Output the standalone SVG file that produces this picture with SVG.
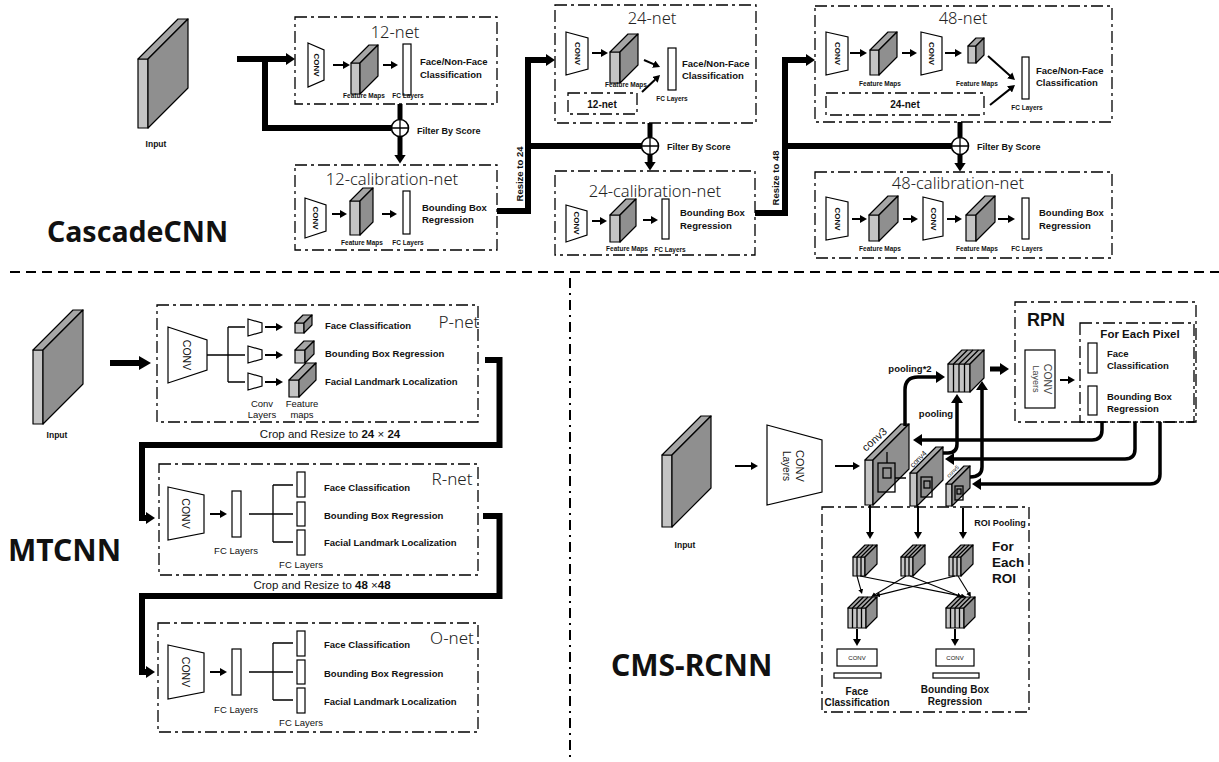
<svg xmlns="http://www.w3.org/2000/svg" width="1219" height="762" viewBox="0 0 1219 762">
<defs>
<style>
.bx{fill:none;stroke:#000;stroke-width:1.3;stroke-dasharray:12 4 3 4}
.th{fill:none;stroke:#000;stroke-width:6;stroke-linejoin:miter}
.t5{fill:none;stroke:#000;stroke-width:5}
.t4{fill:none;stroke:#000;stroke-width:3.5}
.a2{fill:none;stroke:#000;stroke-width:2}
.a1{fill:none;stroke:#000;stroke-width:1.1}
.fr{fill:#c4c4c4;stroke:#000;stroke-width:1.2;stroke-linejoin:round}
.tp{fill:#a6a6a6;stroke:#000;stroke-width:1.2;stroke-linejoin:round}
.sd{fill:#8f8f8f;stroke:#000;stroke-width:1.2;stroke-linejoin:round}
.wh{fill:#fff;stroke:#000;stroke-width:1.2}
.ln{fill:none;stroke:#000;stroke-width:1.3}
.ox{fill:#fff;stroke:#000;stroke-width:1.6}
text{font-family:"Liberation Sans",Arial,sans-serif;fill:#111}
.ttl{font-family:"Noto Sans","Liberation Sans",sans-serif;font-weight:300;font-size:16.5px;text-anchor:middle;fill:#222}
.lb{font-weight:bold;font-size:9.5px}
.sm{font-weight:bold;font-size:6.5px;text-anchor:middle}
.cv{font-size:8px;font-weight:bold;text-anchor:middle;dominant-baseline:central}
.cvb{font-size:10.5px;text-anchor:middle;dominant-baseline:central}
.big{font-family:"Noto Sans","Liberation Sans",sans-serif;font-weight:bold;font-size:30px}
.mid{text-anchor:middle}
</style>
<marker id="mS" markerUnits="userSpaceOnUse" markerWidth="8" markerHeight="8" refX="0.5" refY="4" orient="auto"><path d="M0,0 L7,4 L0,8 z"/></marker>
<marker id="mX" markerUnits="userSpaceOnUse" markerWidth="6" markerHeight="6" refX="0.5" refY="2.5" orient="auto"><path d="M0,0 L5,2.5 L0,5 z"/></marker>
<marker id="mT" markerUnits="userSpaceOnUse" markerWidth="10" markerHeight="12" refX="0.5" refY="6" orient="auto"><path d="M0,0 L9,6 L0,12 z"/></marker>
<marker id="mB" markerUnits="userSpaceOnUse" markerWidth="13" markerHeight="14" refX="0.5" refY="7" orient="auto"><path d="M0,0 L12,7 L0,14 z"/></marker>
</defs>
<rect width="1219" height="762" fill="#fff"/>

<g id="dividers">
<line x1="10" y1="272" x2="1219" y2="272" stroke="#000" stroke-width="2" stroke-dasharray="10 6"/>
<line x1="570" y1="278" x2="570" y2="762" stroke="#000" stroke-width="2" stroke-dasharray="10 5 2 5"/>
</g>

<!-- ================= CascadeCNN ================= -->
<g id="cascade-title"><text class="big" x="47" y="242" style="font-size:28.5px">CascadeCNN</text></g>

<g id="cascade-input">
<rect class="fr" x="138" y="59" width="10" height="69"/>
<polygon class="tp" points="138,59 178,19 188,19 148,59"/>
<polygon class="sd" points="148,59 188,19 188,88 148,128"/>
<text class="sm" x="156" y="147" style="font-size:8.5px">Input</text>
</g>

<g id="net12">
<rect class="bx" x="295" y="17" width="202" height="87"/>
<text class="ttl" x="395" y="38">12-net</text>
<polygon class="wh" points="308,43 324,50 324,80 308,87"/>
<text class="cv" transform="translate(316,65) rotate(90)">CONV</text>
<rect class="fr" x="351" y="63" width="9" height="31"/>
<polygon class="tp" points="351,63 369,45 378,45 360,63"/>
<polygon class="sd" points="360,63 378,45 378,76 360,94"/>
<text class="sm" x="364" y="98">Feature Maps</text>
<rect class="wh" x="403" y="44" width="8" height="51"/>
<text class="sm" x="408" y="98">FC Layers</text>
<text class="lb" x="420" y="65">Face/Non-Face</text>
<text class="lb" x="420" y="77.5">Classification</text>
</g>

<g id="cal12">
<rect class="bx" x="295" y="165" width="202" height="85"/>
<text class="ttl" x="392" y="185">12-calibration-net</text>
<polygon class="wh" points="305,198 326,205 326,231 305,238"/>
<text class="cv" transform="translate(315.5,218) rotate(90)">CONV</text>
<rect class="fr" x="350" y="201" width="10" height="34"/>
<polygon class="tp" points="350,201 363,188 373,188 360,201"/>
<polygon class="sd" points="360,201 373,188 373,222 360,235"/>
<text class="sm" x="362" y="245">Feature Maps</text>
<rect class="wh" x="403" y="191" width="7" height="43"/>
<text class="sm" x="408" y="245">FC Layers</text>
<text class="lb" x="422" y="210.5">Bounding Box</text>
<text class="lb" x="422" y="223">Regression</text>
</g>

<g id="net24">
<rect class="bx" x="555" y="5" width="201" height="118"/>
<text class="ttl" x="652" y="24">24-net</text>
<polygon class="wh" points="566,32 588,38 588,69 566,75"/>
<text class="cv" transform="translate(577,53.5) rotate(90)">CONV</text>
<rect class="fr" x="610" y="52" width="10" height="31"/>
<polygon class="tp" points="610,52 628,34 638,34 620,52"/>
<polygon class="sd" points="620,52 638,34 638,65 620,83"/>
<text class="sm" x="626" y="87">Feature Maps</text>
<rect class="wh" x="668" y="48" width="8" height="42"/>
<text class="sm" x="672" y="101">FC Layers</text>
<text class="lb" x="682" y="66.5">Face/Non-Face</text>
<text class="lb" x="682" y="79">Classification</text>
<rect class="bx" x="568" y="93" width="69" height="21"/>
<text class="mid" x="602" y="107.5" style="font-size:10px;font-weight:bold">12-net</text>
</g>

<g id="cal24">
<rect class="bx" x="555" y="171" width="200" height="84"/>
<text class="ttl" x="655" y="197">24-calibration-net</text>
<polygon class="wh" points="566,205 587,211 587,235 566,242"/>
<text class="cv" transform="translate(576.5,223) rotate(90)">CONV</text>
<rect class="fr" x="610" y="215" width="10" height="27"/>
<polygon class="tp" points="610,215 626,199 636,199 620,215"/>
<polygon class="sd" points="620,215 636,199 636,226 620,242"/>
<text class="sm" x="627" y="251">Feature Maps</text>
<rect class="wh" x="662" y="199" width="7" height="40"/>
<text class="sm" x="670" y="252">FC Layers</text>
<text class="lb" x="680" y="216">Bounding Box</text>
<text class="lb" x="680" y="228.5">Regression</text>
</g>

<g id="net48">
<rect class="bx" x="815" y="6" width="297" height="116"/>
<text class="ttl" x="963" y="24">48-net</text>
<polygon class="wh" points="826,32 848,37 848,70 826,75"/>
<text class="cv" transform="translate(837,53.5) rotate(90)">CONV</text>
<rect class="fr" x="870" y="50" width="9" height="25"/>
<polygon class="tp" points="870,50 888,32 897,32 879,50"/>
<polygon class="sd" points="879,50 897,32 897,57 879,75"/>
<polygon class="wh" points="921,32 942,37 942,70 921,75"/>
<text class="cv" transform="translate(931.5,53.5) rotate(90)">CONV</text>
<rect class="fr" x="968" y="46" width="8" height="17"/>
<polygon class="tp" points="968,46 976,38 984,38 976,46"/>
<polygon class="sd" points="976,46 984,38 984,55 976,63"/>
<text class="sm" x="880" y="86">Feature Maps</text>
<text class="sm" x="977" y="86">Feature Maps</text>
<rect class="wh" x="1022" y="57" width="7" height="42"/>
<text class="sm" x="1027" y="110">FC Layers</text>
<text class="lb" x="1036" y="73.5">Face/Non-Face</text>
<text class="lb" x="1036" y="86">Classification</text>
<rect class="bx" x="826" y="93" width="158" height="22"/>
<text class="mid" x="905" y="107.5" style="font-size:10px;font-weight:bold">24-net</text>
</g>

<g id="cal48">
<rect class="bx" x="815" y="172" width="297" height="86"/>
<text class="ttl" x="958" y="189">48-calibration-net</text>
<polygon class="wh" points="826,197 848,202 848,236 826,240"/>
<text class="cv" transform="translate(837,219) rotate(90)">CONV</text>
<rect class="fr" x="869" y="215" width="10" height="26"/>
<polygon class="tp" points="869,215 888,196 898,196 879,215"/>
<polygon class="sd" points="879,215 898,196 898,222 879,241"/>
<polygon class="wh" points="923,197 943,202 943,236 923,240"/>
<text class="cv" transform="translate(933,219) rotate(90)">CONV</text>
<rect class="fr" x="966" y="215" width="10" height="26"/>
<polygon class="tp" points="966,215 985,196 995,196 976,215"/>
<polygon class="sd" points="976,215 995,196 995,222 976,241"/>
<rect class="wh" x="1022" y="198" width="7" height="41"/>
<text class="sm" x="880" y="251">Feature Maps</text>
<text class="sm" x="977" y="251">Feature Maps</text>
<text class="sm" x="1027" y="251">FC Layers</text>
<text class="lb" x="1039" y="216">Bounding Box</text>
<text class="lb" x="1039" y="228.5">Regression</text>
</g>

<g id="filters">
<circle class="ox" cx="400" cy="128" r="8.5"/><path class="ln" d="M391.5,128 H408.5 M400,119.5 V136.5"/>
<text class="lb" x="417" y="134" style="font-size:9px">Filter By Score</text>
<circle class="ox" cx="650" cy="146" r="8.5"/><path class="ln" d="M641.5,146 H658.5 M650,137.5 V154.5"/>
<text class="lb" x="667" y="150" style="font-size:9px">Filter By Score</text>
<circle class="ox" cx="960" cy="146" r="8.5"/><path class="ln" d="M951.5,146 H968.5 M960,137.5 V154.5"/>
<text class="lb" x="977" y="150" style="font-size:9px">Filter By Score</text>
<text class="lb" transform="translate(523,174) rotate(-90)" text-anchor="middle" style="font-size:9.5px">Resize to 24</text>
<text class="lb" transform="translate(779,178) rotate(-90)" text-anchor="middle" style="font-size:9.5px">Resize to 48</text>
</g>

<!-- ================= MTCNN ================= -->
<g id="mtcnn-title"><text class="big" x="8" y="561">MTCNN</text></g>

<g id="mtcnn-input">
<rect class="fr" x="33" y="350" width="10" height="74"/>
<polygon class="tp" points="33,350 73,310 83,310 43,350"/>
<polygon class="sd" points="43,350 83,310 83,384 43,424"/>
<text class="sm" x="57" y="438" style="font-size:8.5px">Input</text>
</g>

<g id="pnet">
<rect class="bx" x="157" y="305" width="321" height="117"/>
<text class="ttl" x="459" y="328" style="font-size:17px">P-net</text>
<polygon class="wh" points="168,327 207,340 207,370 168,383"/>
<text class="cvb" transform="translate(187,355) rotate(90)">CONV</text>
<path class="ln" d="M207,355 H245 M228,327 V382 M228,327 H245 M228,382 H245"/>
<polygon class="wh" points="248,319 262,323 262,332 248,336"/>
<polygon class="wh" points="248,346 262,350 262,359 248,363"/>
<polygon class="wh" points="248,373 262,377 262,386 248,390"/>
<rect class="fr" x="295" y="323" width="9" height="10"/>
<polygon class="tp" points="295,323 303,315 312,315 304,323"/>
<polygon class="sd" points="304,323 312,315 312,325 304,333"/>
<rect class="fr" x="295" y="350" width="10" height="13"/>
<polygon class="tp" points="295,350 304,341 314,341 305,350"/>
<polygon class="sd" points="305,350 314,341 314,354 305,363"/>
<rect class="fr" x="289" y="380" width="10" height="17"/>
<polygon class="tp" points="289,380 306,363 316,363 299,380"/>
<polygon class="sd" points="299,380 316,363 316,380 299,397"/>
<text class="lb" x="325" y="328.5">Face Classification</text>
<text class="lb" x="325" y="356.5">Bounding Box Regression</text>
<text class="lb" x="325" y="384.5">Facial Landmark Localization</text>
<text class="mid" x="262" y="406.5" style="font-size:9.5px">Conv</text>
<text class="mid" x="262" y="417.5" style="font-size:9.5px">Layers</text>
<text class="mid" x="302" y="406.5" style="font-size:9.5px">Feature</text>
<text class="mid" x="302" y="417.5" style="font-size:9.5px">maps</text>
</g>

<g id="rnet">
<rect class="bx" x="159" y="464" width="319" height="111"/>
<text class="ttl" x="452" y="485" style="font-size:17px">R-net</text>
<polygon class="wh" points="168,487 204,495 204,533 168,540"/>
<text class="cvb" transform="translate(186,513.5) rotate(90)">CONV</text>
<rect class="wh" x="232" y="491" width="9" height="46"/>
<text class="mid" x="236" y="553.5" style="font-size:9.5px">FC Layers</text>
<path class="ln" d="M249,514 H293 M273,485 V542 M273,485 H293 M273,542 H293"/>
<rect class="wh" x="297" y="472" width="8" height="25"/>
<rect class="wh" x="297" y="502" width="8" height="24"/>
<rect class="wh" x="297" y="530" width="8" height="25"/>
<text class="mid" x="301" y="567.5" style="font-size:9.5px">FC Layers</text>
<text class="lb" x="324" y="490.5">Face Classification</text>
<text class="lb" x="324" y="518.5">Bounding Box Regression</text>
<text class="lb" x="324" y="545.5">Facial Landmark Localization</text>
</g>

<g id="onet">
<rect class="bx" x="158" y="623" width="320" height="109"/>
<text class="ttl" x="452" y="644" style="font-size:17px">O-net</text>
<polygon class="wh" points="168,645 204,653 204,692 168,699"/>
<text class="cvb" transform="translate(186,672) rotate(90)">CONV</text>
<rect class="wh" x="232" y="649" width="9" height="46"/>
<text class="mid" x="236" y="712.5" style="font-size:9.5px">FC Layers</text>
<path class="ln" d="M249,672 H293 M273,643 V700 M273,643 H293 M273,700 H293"/>
<rect class="wh" x="297" y="631" width="8" height="25"/>
<rect class="wh" x="297" y="660" width="8" height="24"/>
<rect class="wh" x="297" y="688" width="8" height="25"/>
<text class="mid" x="301" y="725.5" style="font-size:9.5px">FC Layers</text>
<text class="lb" x="324" y="647.5">Face Classification</text>
<text class="lb" x="324" y="676.5">Bounding Box Regression</text>
<text class="lb" x="324" y="704.5">Facial Landmark Localization</text>
</g>

<g id="crop-labels">
<text class="mid" x="330" y="438" style="font-size:11.5px">Crop and Resize to <tspan font-weight="bold">24</tspan> × <tspan font-weight="bold">24</tspan></text>
<text class="mid" x="322" y="589" style="font-size:11.5px">Crop and Resize to <tspan font-weight="bold">48</tspan> ×<tspan font-weight="bold">48</tspan></text>
</g>

<!-- ================= CMS-RCNN ================= -->
<g id="cms-title"><text class="big" x="611" y="676">CMS-RCNN</text></g>

<g id="cms-input">
<rect class="fr" x="662" y="455" width="10" height="72"/>
<polygon class="tp" points="662,455 701,416 711,416 672,455"/>
<polygon class="sd" points="672,455 711,416 711,488 672,527"/>
<text class="sm" x="685" y="548" style="font-size:8.5px">Input</text>
</g>

<g id="cms-conv">
<polygon class="wh" points="767,425 822,440 822,492 767,505"/>
<g transform="translate(792,466) rotate(90)">
<text class="mid" x="0" y="-4" style="font-size:11px">CONV</text>
<text class="mid" x="0" y="9" style="font-size:10px">Layers</text>
</g>
</g>

<g id="conv3">
<rect class="fr" x="865" y="460" width="8" height="45"/>
<polygon class="tp" points="865,460 901,424 909,424 873,460"/>
<polygon class="sd" points="873,460 909,424 909,469 873,505"/>
<rect class="ln" x="878" y="463" width="17" height="29"/>
<rect class="ln" x="883" y="468" width="8" height="10"/>
<path class="ln" d="M887,463 V452 M895,478 H906"/>
<text transform="translate(866,452) rotate(-42)" style="font-size:11px">conv3</text>
</g>
<g id="conv4">
<rect class="fr" x="910" y="473" width="7" height="33"/>
<polygon class="tp" points="910,473 936,447 943,447 917,473"/>
<polygon class="sd" points="917,473 943,447 943,480 917,506"/>
<rect class="ln" x="921" y="477" width="11" height="20"/>
<rect class="ln" x="924" y="481" width="6" height="7"/>
<text transform="translate(913,468) rotate(-45)" style="font-size:7.5px">conv4</text>
</g>
<g id="conv5">
<rect class="fr" x="946" y="484" width="6" height="22"/>
<polygon class="tp" points="946,484 964,466 970,466 952,484"/>
<polygon class="sd" points="952,484 970,466 970,488 952,506"/>
<rect class="ln" x="955" y="486" width="8" height="14"/>
<rect class="ln" x="957" y="489" width="4" height="5"/>
<text transform="translate(949,478) rotate(-45)" style="font-size:5.5px">conv5</text>
</g>

<g id="concat">
<rect class="fr" x="948" y="364" width="22" height="28"/>
<polygon class="tp" points="948,364 962,350 984,350 970,364"/>
<polygon class="sd" points="970,364 984,350 984,378 970,392"/>
<path class="ln" d="M953.5,364 V392 M953.5,364 L967.5,350 M959,364 V392 M959,364 L973,350 M964.5,364 V392 M964.5,364 L978.5,350"/>
<text class="lb mid" x="910" y="372">pooling*2</text>
<text class="lb mid" x="936" y="416.5">pooling</text>
</g>

<g id="rpn">
<rect class="bx" x="1015" y="302" width="181" height="120"/>
<text x="1027" y="326" style="font-size:18px;font-weight:bold">RPN</text>
<rect class="wh" x="1025" y="350" width="30" height="58"/>
<g transform="translate(1040,379) rotate(90)">
<text class="mid" x="0" y="-4" style="font-size:10.5px;fill:#444">CONV</text>
<text class="mid" x="0" y="7" style="font-size:9px;fill:#444">Layers</text>
</g>
<rect class="bx" x="1080" y="323" width="114" height="99"/>
<text class="mid" x="1140" y="337.5" style="font-size:11.5px;font-weight:bold">For Each Pixel</text>
<rect class="wh" x="1088" y="343" width="9" height="30"/>
<rect class="wh" x="1088" y="386" width="9" height="29"/>
<text class="lb" x="1107" y="356.5">Face</text>
<text class="lb" x="1107" y="368.5">Classification</text>
<text class="lb" x="1107" y="399.5">Bounding Box</text>
<text class="lb" x="1107" y="411.5">Regression</text>
</g>

<g id="roi">
<rect class="bx" x="822" y="507" width="207" height="205"/>
<text class="lb mid" x="1000" y="526" style="font-size:9px">ROI Pooling</text>
<text x="992" y="551" style="font-size:13.5px;font-weight:bold">For</text>
<text x="992" y="567" style="font-size:13.5px;font-weight:bold">Each</text>
<text x="992" y="583" style="font-size:13.5px;font-weight:bold">ROI</text>
<rect class="fr" x="853" y="557" width="12" height="19"/>
<polygon class="tp" points="853,557 865,545 877,545 865,557"/>
<polygon class="sd" points="865,557 877,545 877,564 865,576"/>
<path class="ln" d="M857,557 V576 M857,557 L869,545 M861,557 V576 M861,557 L873,545"/>
<rect class="fr" x="901" y="557" width="12" height="19"/>
<polygon class="tp" points="901,557 913,545 925,545 913,557"/>
<polygon class="sd" points="913,557 925,545 925,564 913,576"/>
<path class="ln" d="M905,557 V576 M905,557 L917,545 M909,557 V576 M909,557 L921,545"/>
<rect class="fr" x="949" y="557" width="12" height="19"/>
<polygon class="tp" points="949,557 961,545 973,545 961,557"/>
<polygon class="sd" points="961,557 973,545 973,564 961,576"/>
<path class="ln" d="M953,557 V576 M953,557 L965,545 M957,557 V576 M957,557 L969,545"/>
<rect class="fr" x="848" y="608" width="18" height="20"/>
<polygon class="tp" points="848,608 859,597 877,597 866,608"/>
<polygon class="sd" points="866,608 877,597 877,617 866,628"/>
<path class="ln" d="M852.5,608 V628 M852.5,608 L863.5,597 M857,608 V628 M857,608 L868,597 M861.5,608 V628 M861.5,608 L872.5,597"/>
<rect class="fr" x="946" y="608" width="18" height="20"/>
<polygon class="tp" points="946,608 957,597 975,597 964,608"/>
<polygon class="sd" points="964,608 975,597 975,617 964,628"/>
<path class="ln" d="M950.5,608 V628 M950.5,608 L961.5,597 M955,608 V628 M955,608 L966,597 M959.5,608 V628 M959.5,608 L970.5,597"/>
<rect class="wh" x="837" y="649" width="40" height="17"/>
<text class="mid" x="857" y="660" style="font-size:6px">CONV</text>
<rect class="wh" x="936" y="649" width="38" height="17"/>
<text class="mid" x="955" y="660" style="font-size:6px">CONV</text>
<rect class="wh" x="834" y="673" width="47" height="5"/>
<rect class="wh" x="933" y="673" width="46" height="5"/>
<text class="mid" x="857" y="694.5" style="font-size:10px;font-weight:bold">Face</text>
<text class="mid" x="857" y="706" style="font-size:10px;font-weight:bold">Classification</text>
<text class="mid" x="955" y="692.5" style="font-size:10px;font-weight:bold">Bounding Box</text>
<text class="mid" x="955" y="704.5" style="font-size:10px;font-weight:bold">Regression</text>
</g>

<!-- ================= Connectors ================= -->
<g id="connectors">
<path class="th" d="M237,59 H286.5" marker-end="url(#mT)"/>
<path class="th" d="M265,59 V128 H391.5"/>
<path class="t5" d="M400,104 V119.5"/>
<path class="t5" d="M400,136.5 V155" marker-end="url(#mT)"/>
<path class="th" d="M497,211 H528 V60 H546.5" marker-end="url(#mT)"/>
<path class="th" d="M528,146 H641.5"/>
<path class="t5" d="M650,123 V137.5"/>
<path class="t5" d="M650,154.5 V162" marker-end="url(#mT)"/>
<path class="th" d="M755,213 H785 V60 H806.5" marker-end="url(#mT)"/>
<path class="th" d="M785,146 H951.5"/>
<path class="t5" d="M960,122 V137.5"/>
<path class="t5" d="M960,154.5 V163" marker-end="url(#mT)"/>
<path class="a2" d="M333,65 H343.5" marker-end="url(#mS)"/>
<path class="a2" d="M383,65 H391.5" marker-end="url(#mS)"/>
<path class="a2" d="M332,214 H340.5" marker-end="url(#mS)"/>
<path class="a2" d="M382,214 H390.5" marker-end="url(#mS)"/>
<path class="a2" d="M592,53 H601.5" marker-end="url(#mS)"/>
<path class="a2" d="M644,60 L654.1,64.4" marker-end="url(#mS)"/>
<path class="a2" d="M642,92 L655.3,79.5" marker-end="url(#mS)"/>
<path class="a2" d="M592,221 H600.5" marker-end="url(#mS)"/>
<path class="a2" d="M643,220 H651.5" marker-end="url(#mS)"/>
<path class="a2" d="M850,53 H860.5" marker-end="url(#mS)"/>
<path class="a2" d="M902,53 H910.5" marker-end="url(#mS)"/>
<path class="a2" d="M945,53 H955.5" marker-end="url(#mS)"/>
<path class="a2" d="M988,56 L1010.1,75.7" marker-end="url(#mS)"/>
<path class="a2" d="M990,105 L1009.9,89.1" marker-end="url(#mS)"/>
<path class="a2" d="M852,219 H860.5" marker-end="url(#mS)"/>
<path class="a2" d="M903,219 H911.5" marker-end="url(#mS)"/>
<path class="a2" d="M947,219 H955.5" marker-end="url(#mS)"/>
<path class="a2" d="M998,219 H1008.5" marker-end="url(#mS)"/>
<path class="th" d="M110,363 H139.5" marker-end="url(#mB)"/>
<path class="th" d="M485,360 H499.5 V445 H142 V518 H146.5" marker-end="url(#mT)"/>
<path class="th" d="M483,516 H499.5 V596 H142 V672 H146.5" marker-end="url(#mT)"/>
<path class="a2" d="M265,327 H276.5" marker-end="url(#mS)"/>
<path class="a2" d="M265,355 H276.5" marker-end="url(#mS)"/>
<path class="a2" d="M265,382 H276.5" marker-end="url(#mS)"/>
<path class="a2" d="M210,514 H220.5" marker-end="url(#mS)"/>
<path class="a2" d="M210,672 H220.5" marker-end="url(#mS)"/>
<path class="a2" d="M735,466 H751.5" marker-end="url(#mS)"/>
<path class="a2" d="M835,466 H853.5" marker-end="url(#mS)"/>
<path class="t4" d="M905,426 V390 Q905,377 918,377 H936.5" marker-end="url(#mT)"/>
<path class="t4" d="M943,453 H948 Q957,453 957,444 V402.5" marker-end="url(#mT)"/>
<path class="t4" d="M970,477 Q982,477 982,467 V389.5" marker-end="url(#mT)"/>
<path class="t5" d="M990,369 H1000.5" marker-end="url(#mT)"/>
<path class="a2" d="M1060,380 H1068.5" marker-end="url(#mS)"/>
<path class="t4" d="M1102,422 V430 Q1102,440 1092,440 H921.5" marker-end="url(#mT)"/>
<path class="t4" d="M1135,422 V449 Q1135,459 1125,459 H953.5" marker-end="url(#mT)"/>
<path class="t4" d="M1160,422 V474 Q1160,484 1150,484 H980.5" marker-end="url(#mT)"/>
<path class="a2" d="M870,505 V532.5" marker-end="url(#mS)"/>
<path class="a2" d="M918,506 V532.5" marker-end="url(#mS)"/>
<path class="a2" d="M963,508 V532.5" marker-end="url(#mS)"/>
<path class="a1" d="M857,576 L860.8,589.7" marker-end="url(#mX)"/>
<path class="a1" d="M860,576 L961.6,596.1" marker-end="url(#mX)"/>
<path class="a1" d="M906,576 L874.9,594.7" marker-end="url(#mX)"/>
<path class="a1" d="M910,576 L957.8,595.3" marker-end="url(#mX)"/>
<path class="a1" d="M955,576 L879.4,594.9" marker-end="url(#mX)"/>
<path class="a1" d="M958,576 L968.6,593.2" marker-end="url(#mX)"/>
<path class="a2" d="M857,629 V639.5" marker-end="url(#mS)"/>
<path class="a2" d="M955,629 V639.5" marker-end="url(#mS)"/>
</g>
</svg>
